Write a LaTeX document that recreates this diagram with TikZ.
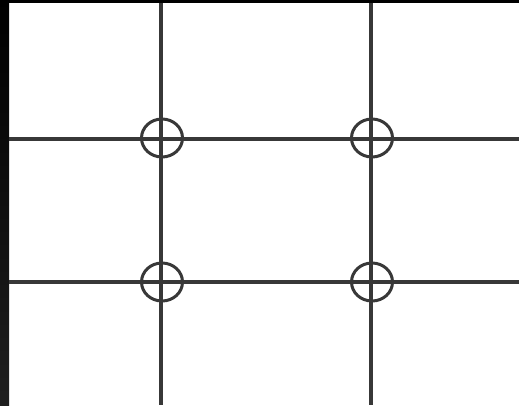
\documentclass[tikz,border=0pt]{standalone}
\usetikzlibrary{shapes.geometric}
\definecolor{gridline}{HTML}{383838}
\begin{document}
\begin{tikzpicture}[x=1pt,y=-1pt,
  gline/.style={draw=gridline,line width=3.4pt},
  mark0/.style={ellipse,draw=gridline,line width=3pt,minimum width=41pt,minimum height=38pt,inner sep=0pt},
]
\useasboundingbox (0,0) rectangle (519,405);
\fill[white] (0,0) rectangle (519,405);
\fill[black] (0,0) rectangle (519,2.5);
\shade[top color=black,bottom color=black!88] (0,0) rectangle (9,405);
% coordinates at the edges
\coordinate (t1) at (161,2.5);
\coordinate (b1) at (161,405);
\coordinate (t2) at (371,2.5);
\coordinate (b2) at (371,405);
\coordinate (l1) at (9,139);
\coordinate (r1) at (519,139);
\coordinate (l2) at (9,282);
\coordinate (r2) at (519,282);
\draw[gline] (t1) -- (b1);
\draw[gline] (t2) -- (b2);
\draw[gline] (l1) -- (r1);
\draw[gline] (l2) -- (r2);
\node[mark0] (c11) at (162,138) {};
\node[mark0] (c12) at (372,138) {};
\node[mark0] (c21) at (162,282) {};
\node[mark0] (c22) at (372,282) {};
\end{tikzpicture}
\end{document}
